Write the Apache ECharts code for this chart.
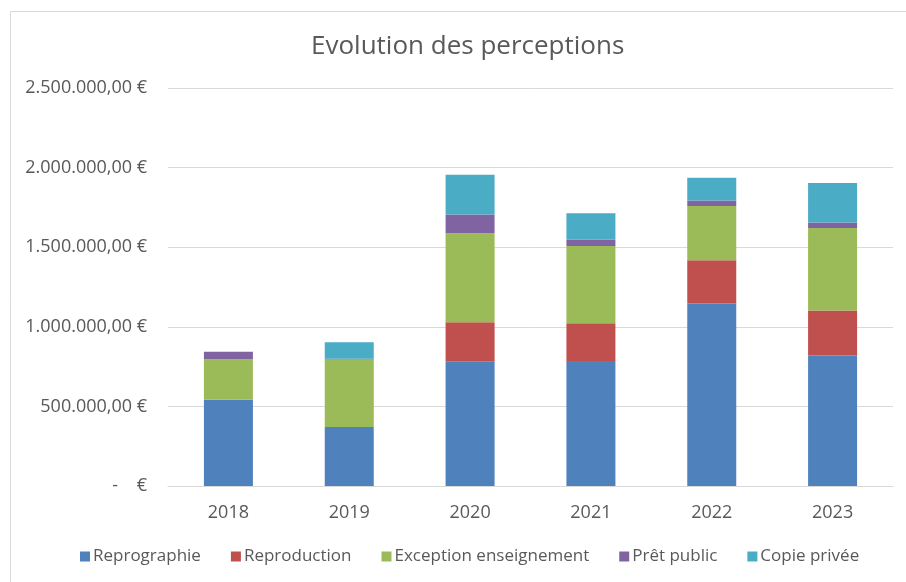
<!DOCTYPE html>
<html>
<head>
<meta charset="utf-8">
<script src="https://cdn.jsdelivr.net/npm/echarts@6/dist/echarts.min.js"></script>
<style>
html,body{margin:0;padding:0;background:#fff;}
#c{width:906px;height:582px;}
</style>
</head>
<body>
<div id="c"></div>
<script>
var categories = ['2018','2019','2020','2021','2022','2023'];
var seriesNames = ['Reprographie','Reproduction','Exception enseignement','Prêt public','Copie privée'];
var reprographie = [542000, 371000, 783000, 785000, 1146000, 819000];
var reproduction = [0, 0, 245000, 237000, 272000, 283000];
var exceptionEns = [254000, 423000, 559000, 486000, 341000, 519000];
var pretPublic = [48000, 5000, 119000, 40000, 34000, 34000];
var copiePrivee = [0, 104000, 249000, 165000, 144000, 249000];
var yTicks = [0, 500000, 1000000, 1500000, 2000000, 2500000];

var colors = ['#4F81BD','#C0504D','#9BBB59','#8064A2','#4BACC6'];
var font = '"Open Sans", sans-serif';

function fmt(v){
  if (v === 0) return '-    €';
  var s = Math.round(v).toString().replace(/\B(?=(\d{3})+(?!\d))/g, '.');
  return s + ',00 €';
}

var dataArr = [reprographie, reproduction, exceptionEns, pretPublic, copiePrivee];
var series = seriesNames.map(function(n, i){
  return {
    name: n, type: 'bar', stack: 'total', data: dataArr[i],
    barWidth: 49,
    itemStyle: {color: colors[i]},
    emphasis: {disabled: true}
  };
});

var chart = echarts.init(document.getElementById('c'));
chart.setOption({
  animation: false,
  textStyle: {fontFamily: font},
  title: {
    text: 'Evolution des perceptions',
    left: 306, top: 29,
    textStyle: {fontFamily: font, fontSize: 26, fontWeight: 'normal', color: '#595959'}
  },
  graphic: [{
    type: 'rect', left: 8, top: 9,
    shape: {width: 920, height: 600},
    style: {fill: 'none', stroke: '#D9D9D9', lineWidth: 1},
    silent: true, z: -1
  }],
  legend: {
    data: seriesNames,
    bottom: 12, left: 75,
    itemWidth: 10, itemHeight: 10, itemGap: 30,
    icon: 'rect',
    textStyle: {fontFamily: font, fontSize: 17, color: '#595959', padding: [0,0,0,-2]}
  },
  grid: {left: 168, right: 13, top: 88, bottom: 96},
  xAxis: {
    type: 'category', data: categories,
    axisLine: {lineStyle: {color: '#D9D9D9', width: 1}},
    axisTick: {show: false},
    axisLabel: {fontFamily: font, fontSize: 18, color: '#595959', margin: 18}
  },
  yAxis: {
    type: 'value', min: 0, max: 2500000, interval: 500000,
    axisLine: {show: false}, axisTick: {show: false},
    splitLine: {lineStyle: {color: '#D9D9D9', width: 1}},
    axisLabel: {fontFamily: font, fontSize: 18, color: '#595959', margin: 21,
      formatter: function(v){ return fmt(v); }}
  },
  series: series
});
</script>
</body>
</html>
